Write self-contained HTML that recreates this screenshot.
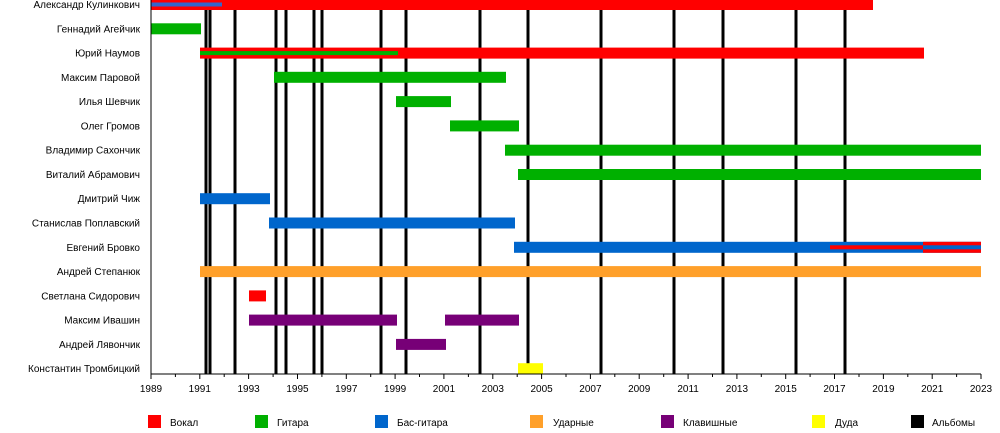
<!DOCTYPE html>
<html><head><meta charset="utf-8"><style>
html,body{margin:0;padding:0;background:#fff;width:1000px;height:433px;overflow:hidden}
svg text{font-family:"Liberation Sans",sans-serif;font-size:10px;fill:#000}
</style></head><body>
<svg width="1000" height="433" xmlns="http://www.w3.org/2000/svg">
<g stroke="#000" stroke-width="3">
<line x1="206" y1="0" x2="206" y2="374"/><line x1="210" y1="0" x2="210" y2="374"/>
<line x1="235" y1="0" x2="235" y2="374"/><line x1="276" y1="0" x2="276" y2="374"/>
<line x1="286" y1="0" x2="286" y2="374"/><line x1="314" y1="0" x2="314" y2="374"/>
<line x1="322" y1="0" x2="322" y2="374"/><line x1="381" y1="0" x2="381" y2="374"/>
<line x1="406" y1="0" x2="406" y2="374"/><line x1="480" y1="0" x2="480" y2="374"/>
<line x1="528" y1="0" x2="528" y2="374"/><line x1="601" y1="0" x2="601" y2="374"/>
<line x1="674" y1="0" x2="674" y2="374"/><line x1="723" y1="0" x2="723" y2="374"/>
<line x1="796" y1="0" x2="796" y2="374"/><line x1="845" y1="0" x2="845" y2="374"/>
</g>
<g>
<rect x="151" y="-1" width="722" height="11" fill="#ff0000"/>
<rect x="151" y="2.5" width="71" height="4" fill="#3366cc"/>
<rect x="151" y="23.3" width="50" height="11" fill="#00b000"/>
<rect x="200" y="47.6" width="724" height="11" fill="#ff0000"/>
<rect x="200" y="51.1" width="198" height="4" fill="#00b000"/>
<rect x="274" y="71.8" width="232" height="11" fill="#00b000"/>
<rect x="396" y="96.1" width="55" height="11" fill="#00b000"/>
<rect x="450" y="120.4" width="69" height="11" fill="#00b000"/>
<rect x="505" y="144.7" width="476" height="11" fill="#00b000"/>
<rect x="518" y="169" width="463" height="11" fill="#00b000"/>
<rect x="200" y="193.2" width="70" height="11" fill="#0066cc"/>
<rect x="269" y="217.5" width="246" height="11" fill="#0066cc"/>
<rect x="514" y="241.8" width="467" height="11" fill="#0066cc"/>
<rect x="830" y="245.3" width="94" height="4" fill="#ff0000"/>
<rect x="923" y="241.8" width="58" height="11" fill="#ff0000"/>
<rect x="923" y="245.3" width="58" height="4" fill="#0066cc"/>
<rect x="200" y="266.1" width="781" height="11" fill="#ffa02a"/>
<rect x="249" y="290.4" width="17" height="11" fill="#ff0000"/>
<rect x="249" y="314.6" width="148" height="11" fill="#770077"/>
<rect x="445" y="314.6" width="74" height="11" fill="#770077"/>
<rect x="396" y="338.9" width="50" height="11" fill="#770077"/>
<rect x="518" y="363.2" width="25" height="11" fill="#ffff00"/>
</g>
<line x1="151" y1="0" x2="151" y2="374" stroke="#000" stroke-width="1"/>
<line x1="151" y1="374" x2="981" y2="374" stroke="#000" stroke-width="1"/>
<g stroke="#000" stroke-width="1">
<path d="M151 374v5M175.4 374v3M199.8 374v5M224.2 374v3M248.6 374v5M273.1 374v3M297.5 374v5M321.9 374v3M346.3 374v5M370.7 374v3M395.1 374v5M419.5 374v3M443.9 374v5M468.4 374v3M492.8 374v5M517.2 374v3M541.6 374v5M566 374v3M590.4 374v5M614.8 374v3M639.2 374v5M663.7 374v3M688.1 374v5M712.5 374v3M736.9 374v5M761.3 374v3M785.7 374v5M810.1 374v3M834.5 374v5M859 374v3M883.4 374v5M907.8 374v3M932.2 374v5M956.6 374v3M981 374v5"/>
</g>
<g text-anchor="middle">
<text x="151" y="392">1989</text><text x="199.8" y="392">1991</text><text x="248.6" y="392">1993</text>
<text x="297.5" y="392">1995</text><text x="346.3" y="392">1997</text><text x="395.1" y="392">1999</text>
<text x="443.9" y="392">2001</text><text x="492.8" y="392">2003</text><text x="541.6" y="392">2005</text>
<text x="590.4" y="392">2007</text><text x="639.2" y="392">2009</text><text x="688.1" y="392">2011</text>
<text x="736.9" y="392">2013</text><text x="785.7" y="392">2015</text><text x="834.5" y="392">2017</text>
<text x="883.4" y="392">2019</text><text x="932.2" y="392">2021</text><text x="981" y="392">2023</text>
</g>
<g text-anchor="end">
<text x="140" y="8">Александр Кулинкович</text>
<text x="140" y="32.3">Геннадий Агейчик</text>
<text x="140" y="56.6">Юрий Наумов</text>
<text x="140" y="80.8">Максим Паровой</text>
<text x="140" y="105.1">Илья Шевчик</text>
<text x="140" y="129.4">Олег Громов</text>
<text x="140" y="153.7">Владимир Сахончик</text>
<text x="140" y="178">Виталий Абрамович</text>
<text x="140" y="202.2">Дмитрий Чиж</text>
<text x="140" y="226.5">Станислав Поплавский</text>
<text x="140" y="250.8">Евгений Бровко</text>
<text x="140" y="275.1">Андрей Степанюк</text>
<text x="140" y="299.4">Светлана Сидорович</text>
<text x="140" y="323.6">Максим Ивашин</text>
<text x="140" y="347.9">Андрей Лявончик</text>
<text x="140" y="372.2">Константин Тромбицкий</text>
</g>
<rect x="148" y="415" width="13" height="13" fill="#ff0000"/><text x="170" y="426">Вокал</text>
<rect x="255" y="415" width="13" height="13" fill="#00b000"/><text x="277" y="426">Гитара</text>
<rect x="375" y="415" width="13" height="13" fill="#0066cc"/><text x="397" y="426">Бас-гитара</text>
<rect x="530" y="415" width="13" height="13" fill="#ffa02a"/><text x="553" y="426">Ударные</text>
<rect x="661" y="415" width="13" height="13" fill="#770077"/><text x="683" y="426">Клавишные</text>
<rect x="812" y="415" width="13" height="13" fill="#ffff00"/><text x="835" y="426">Дуда</text>
<rect x="911" y="415" width="13" height="13" fill="#000"/><text x="932" y="426">Альбомы</text>
</svg>
</body></html>
